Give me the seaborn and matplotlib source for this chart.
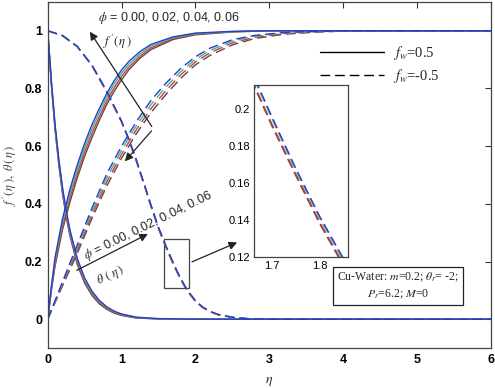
import numpy as np
import pandas as pd
import seaborn as sns
import matplotlib.pyplot as plt
from matplotlib.lines import Line2D
from matplotlib.patches import Rectangle

# phi values and colours (one colour per nanoparticle fraction)
phis = ['0.00', '0.02', '0.04', '0.06']
colors = ['#5a4a4a', '#d83a3a', '#38b890', '#2a3ad0']

# f'(eta), fw = 0.5 (solid)
eta_fs = [0, 0.05, 0.1, 0.2, 0.3, 0.4, 0.5, 0.6, 0.7, 0.8, 0.9, 1.0, 1.1, 1.25, 1.4, 1.7, 2.0, 2.5, 3.0, 6.0]
fs_000 = [0, 0.100, 0.185, 0.310, 0.405, 0.490, 0.565, 0.630, 0.690, 0.745, 0.790, 0.830, 0.865, 0.905, 0.935, 0.970, 0.986, 0.996, 1, 1]
fs_002 = [0, 0.105, 0.195, 0.322, 0.420, 0.505, 0.580, 0.645, 0.703, 0.757, 0.802, 0.842, 0.874, 0.912, 0.941, 0.973, 0.988, 0.997, 1, 1]
fs_004 = [0, 0.110, 0.205, 0.335, 0.435, 0.520, 0.595, 0.660, 0.717, 0.770, 0.815, 0.853, 0.884, 0.920, 0.947, 0.976, 0.990, 0.997, 1, 1]
fs_006 = [0, 0.115, 0.215, 0.348, 0.450, 0.535, 0.610, 0.675, 0.731, 0.783, 0.827, 0.864, 0.894, 0.928, 0.953, 0.979, 0.992, 0.998, 1, 1]

# f'(eta), fw = -0.5 (dashed)
eta_fd = [0, 0.2, 0.4, 0.6, 0.8, 1.0, 1.2, 1.4, 1.6, 1.8, 2.0, 2.2, 2.5, 2.8, 3.2, 3.6, 4.0, 6.0]
fd_000 = [0, 0.115, 0.228, 0.350, 0.462, 0.558, 0.643, 0.717, 0.779, 0.835, 0.882, 0.915, 0.951, 0.973, 0.988, 0.995, 0.999, 1]
fd_002 = [0, 0.120, 0.238, 0.362, 0.476, 0.572, 0.657, 0.731, 0.792, 0.847, 0.892, 0.924, 0.958, 0.977, 0.990, 0.996, 0.999, 1]
fd_004 = [0, 0.125, 0.248, 0.374, 0.490, 0.586, 0.671, 0.745, 0.805, 0.858, 0.901, 0.932, 0.964, 0.981, 0.992, 0.997, 1, 1]
fd_006 = [0, 0.130, 0.258, 0.386, 0.504, 0.600, 0.685, 0.759, 0.818, 0.869, 0.910, 0.940, 0.969, 0.984, 0.994, 0.998, 1, 1]

# theta(eta), fw = 0.5 (solid)
eta_ts = [0, 0.05, 0.1, 0.15, 0.2, 0.25, 0.3, 0.4, 0.5, 0.6, 0.7, 0.8, 0.9, 1.0, 1.2, 1.5, 2.0, 6.0]
ts_000 = [1, 0.810, 0.655, 0.535, 0.435, 0.355, 0.290, 0.190, 0.125, 0.082, 0.053, 0.034, 0.021, 0.013, 0.004, 0.001, 0, 0]
ts_002 = [1, 0.815, 0.662, 0.542, 0.443, 0.363, 0.297, 0.197, 0.131, 0.087, 0.057, 0.037, 0.023, 0.015, 0.005, 0.001, 0, 0]
ts_004 = [1, 0.820, 0.668, 0.549, 0.450, 0.370, 0.304, 0.204, 0.137, 0.092, 0.061, 0.040, 0.026, 0.017, 0.006, 0.001, 0, 0]
ts_006 = [1, 0.825, 0.675, 0.556, 0.458, 0.378, 0.311, 0.211, 0.143, 0.097, 0.065, 0.043, 0.028, 0.018, 0.007, 0.002, 0, 0]

# theta(eta), fw = -0.5 (dashed)
eta_td = [0, 0.2, 0.4, 0.6, 0.8, 1.0, 1.1, 1.2, 1.3, 1.4, 1.5, 1.6, 1.65, 1.7, 1.75, 1.8, 1.85, 1.9, 2.0, 2.1, 2.2, 2.3, 2.5, 2.7, 3.0, 6.0]
td_000 = [1, 0.983, 0.945, 0.878, 0.787, 0.683, 0.620, 0.548, 0.470, 0.390, 0.314, 0.250, 0.220, 0.191, 0.164, 0.138, 0.115, 0.094, 0.062, 0.040, 0.026, 0.016, 0.006, 0.002, 0, 0]
td_002 = [1, 0.983, 0.945, 0.879, 0.788, 0.684, 0.621, 0.549, 0.471, 0.391, 0.315, 0.251, 0.221, 0.192, 0.165, 0.139, 0.116, 0.095, 0.062, 0.040, 0.026, 0.016, 0.006, 0.002, 0, 0]
td_004 = [1, 0.983, 0.946, 0.880, 0.790, 0.686, 0.623, 0.552, 0.474, 0.394, 0.318, 0.254, 0.224, 0.195, 0.167, 0.141, 0.118, 0.097, 0.064, 0.041, 0.027, 0.017, 0.007, 0.002, 0, 0]
td_006 = [1, 0.984, 0.946, 0.881, 0.791, 0.687, 0.624, 0.553, 0.475, 0.395, 0.319, 0.255, 0.225, 0.196, 0.168, 0.142, 0.119, 0.098, 0.065, 0.042, 0.027, 0.017, 0.007, 0.002, 0, 0]

series = [
    ('f', 'fw=0.5', eta_fs, [fs_000, fs_002, fs_004, fs_006]),
    ('f', 'fw=-0.5', eta_fd, [fd_000, fd_002, fd_004, fd_006]),
    ('t', 'fw=0.5', eta_ts, [ts_000, ts_002, ts_004, ts_006]),
    ('t', 'fw=-0.5', eta_td, [td_000, td_002, td_004, td_006]),
]
rows = []
for func, fw, eta, curves in series:
    for phi, vals in zip(phis, curves):
        for e, v in zip(eta, vals):
            rows.append((func + fw + phi, func, fw, phi, e, v))
df = pd.DataFrame(rows, columns=['unit', 'func', 'fw', 'phi', 'eta', 'value'])

sns.set_theme(style='white')
plt.rcParams['font.family'] = ['Liberation Sans', 'DejaVu Sans']
plt.rcParams['mathtext.fontset'] = 'stix'

palette = dict(zip(phis, colors))
dashes = {'fw=0.5': '', 'fw=-0.5': (7, 3.5)}

fig = plt.figure(figsize=(4.95, 3.88), dpi=100)
ax = fig.add_axes([0.0964, 0.103, 0.895, 0.892])

sns.lineplot(data=df, x='eta', y='value', hue='phi', style='fw', units='unit',
             estimator=None, palette=palette, dashes=dashes, sort=False,
             linewidth=1.0, legend=False, ax=ax)

ax.set_xlim(0, 6)
ax.set_ylim(-0.1, 1.1)
ax.set_xticks(range(0, 7))
ax.set_yticks([0, 0.2, 0.4, 0.6, 0.8, 1.0])
ax.set_yticklabels(['0', '0.2', '0.4', '0.6', '0.8', '1'])
ax.tick_params(direction='in', length=4, width=0.8, labelsize=9, top=True, right=True,
               colors='#333333', labelcolor='black', pad=4)
for lab in ax.get_xticklabels() + ax.get_yticklabels():
    lab.set_fontweight('bold')
for s in ax.spines.values():
    s.set_color('#444444')
    s.set_linewidth(0.9)
ax.set_xlabel(r'$\eta$', fontsize=10, labelpad=6)
ax.set_ylabel(r"$f\,'(\,\eta\,),\ \theta\,(\,\eta\,)$", fontsize=9, labelpad=4, color='#444444')

# legend for the two suction values
handles = [Line2D([], [], color='black', lw=1.0),
           Line2D([], [], color='black', lw=1.0, dashes=(7, 3.5))]
leg = ax.legend(handles, [r'$f_w$=0.5', r'$f_w$=-0.5'], loc='upper left',
                bbox_to_anchor=(0.585, 0.915), frameon=False, fontsize=10.5,
                handlelength=4.4, labelspacing=0.3, handletextpad=0.6)
for t in leg.get_texts():
    t.set_family('Liberation Serif')

# annotations
ax.text(0.68, 1.045, r'$\phi$ = 0.00, 0.02, 0.04, 0.06', fontsize=9, ha='left', va='center')
ax.text(0.75, 0.96, r"$f\,'(\,\eta\,)$", fontsize=9, ha='left', va='center')
arr = dict(arrowstyle='-|>', color='#222222', lw=0.9, mutation_scale=12)
ax.annotate('', xy=(0.55, 1.005), xytext=(1.43, 0.66), arrowprops=arr)
ax.annotate('', xy=(1.02, 0.54), xytext=(1.43, 0.66), arrowprops=arr)
ax.text(0.55, 0.19, r'$\phi$ = 0.00, 0.02, 0.04, 0.06', fontsize=9, rotation=26,
        ha='left', va='bottom', rotation_mode='anchor')
ax.text(0.72, 0.105, r'$\theta\ (\ \eta\,)$', fontsize=9, rotation=26,
        ha='left', va='bottom', rotation_mode='anchor')
ax.annotate('', xy=(1.39, 0.30), xytext=(0.36, 0.165), arrowprops=arr)

ax.add_patch(Rectangle((1.57, 0.108), 0.35, 0.17, fill=False, ec='#444444', lw=0.9))
ax.annotate('', xy=(2.6, 0.27), xytext=(1.92, 0.195), arrowprops=arr)

ax.text(3.92, 0.116, 'Cu-Water: $m$=0.2; $\\theta_r$= -2;\n$P_r$=6.2; $M$=0', fontsize=8.5,
        family='Liberation Serif', ha='left', va='center', linespacing=1.3,
        multialignment='center',
        bbox=dict(boxstyle='square,pad=0.35', fc='white', ec='#222222', lw=0.9))

# zoomed inset
axin = fig.add_axes([0.513, 0.3376, 0.19, 0.443])
sns.lineplot(data=df[df['func'] == 't'], x='eta', y='value', hue='phi', style='fw',
             units='unit', estimator=None, palette=palette, dashes=dashes, sort=False,
             linewidth=1.0, legend=False, ax=axin)
axin.set_xlim(1.663, 1.859)
axin.set_ylim(0.1205, 0.2128)
axin.set_xticks([1.7, 1.8])
axin.set_yticks([0.12, 0.14, 0.16, 0.18, 0.2])
axin.set_yticklabels(['0.12', '0.14', '0.16', '0.18', '0.2'])
axin.set_xlabel('')
axin.set_ylabel('')
axin.tick_params(direction='in', length=3, width=0.8, labelsize=8, colors='#333333',
                 labelcolor='black', pad=3)
for s in axin.spines.values():
    s.set_color('#444444')
    s.set_linewidth(0.9)

fig.savefig('out.png', dpi=100)
